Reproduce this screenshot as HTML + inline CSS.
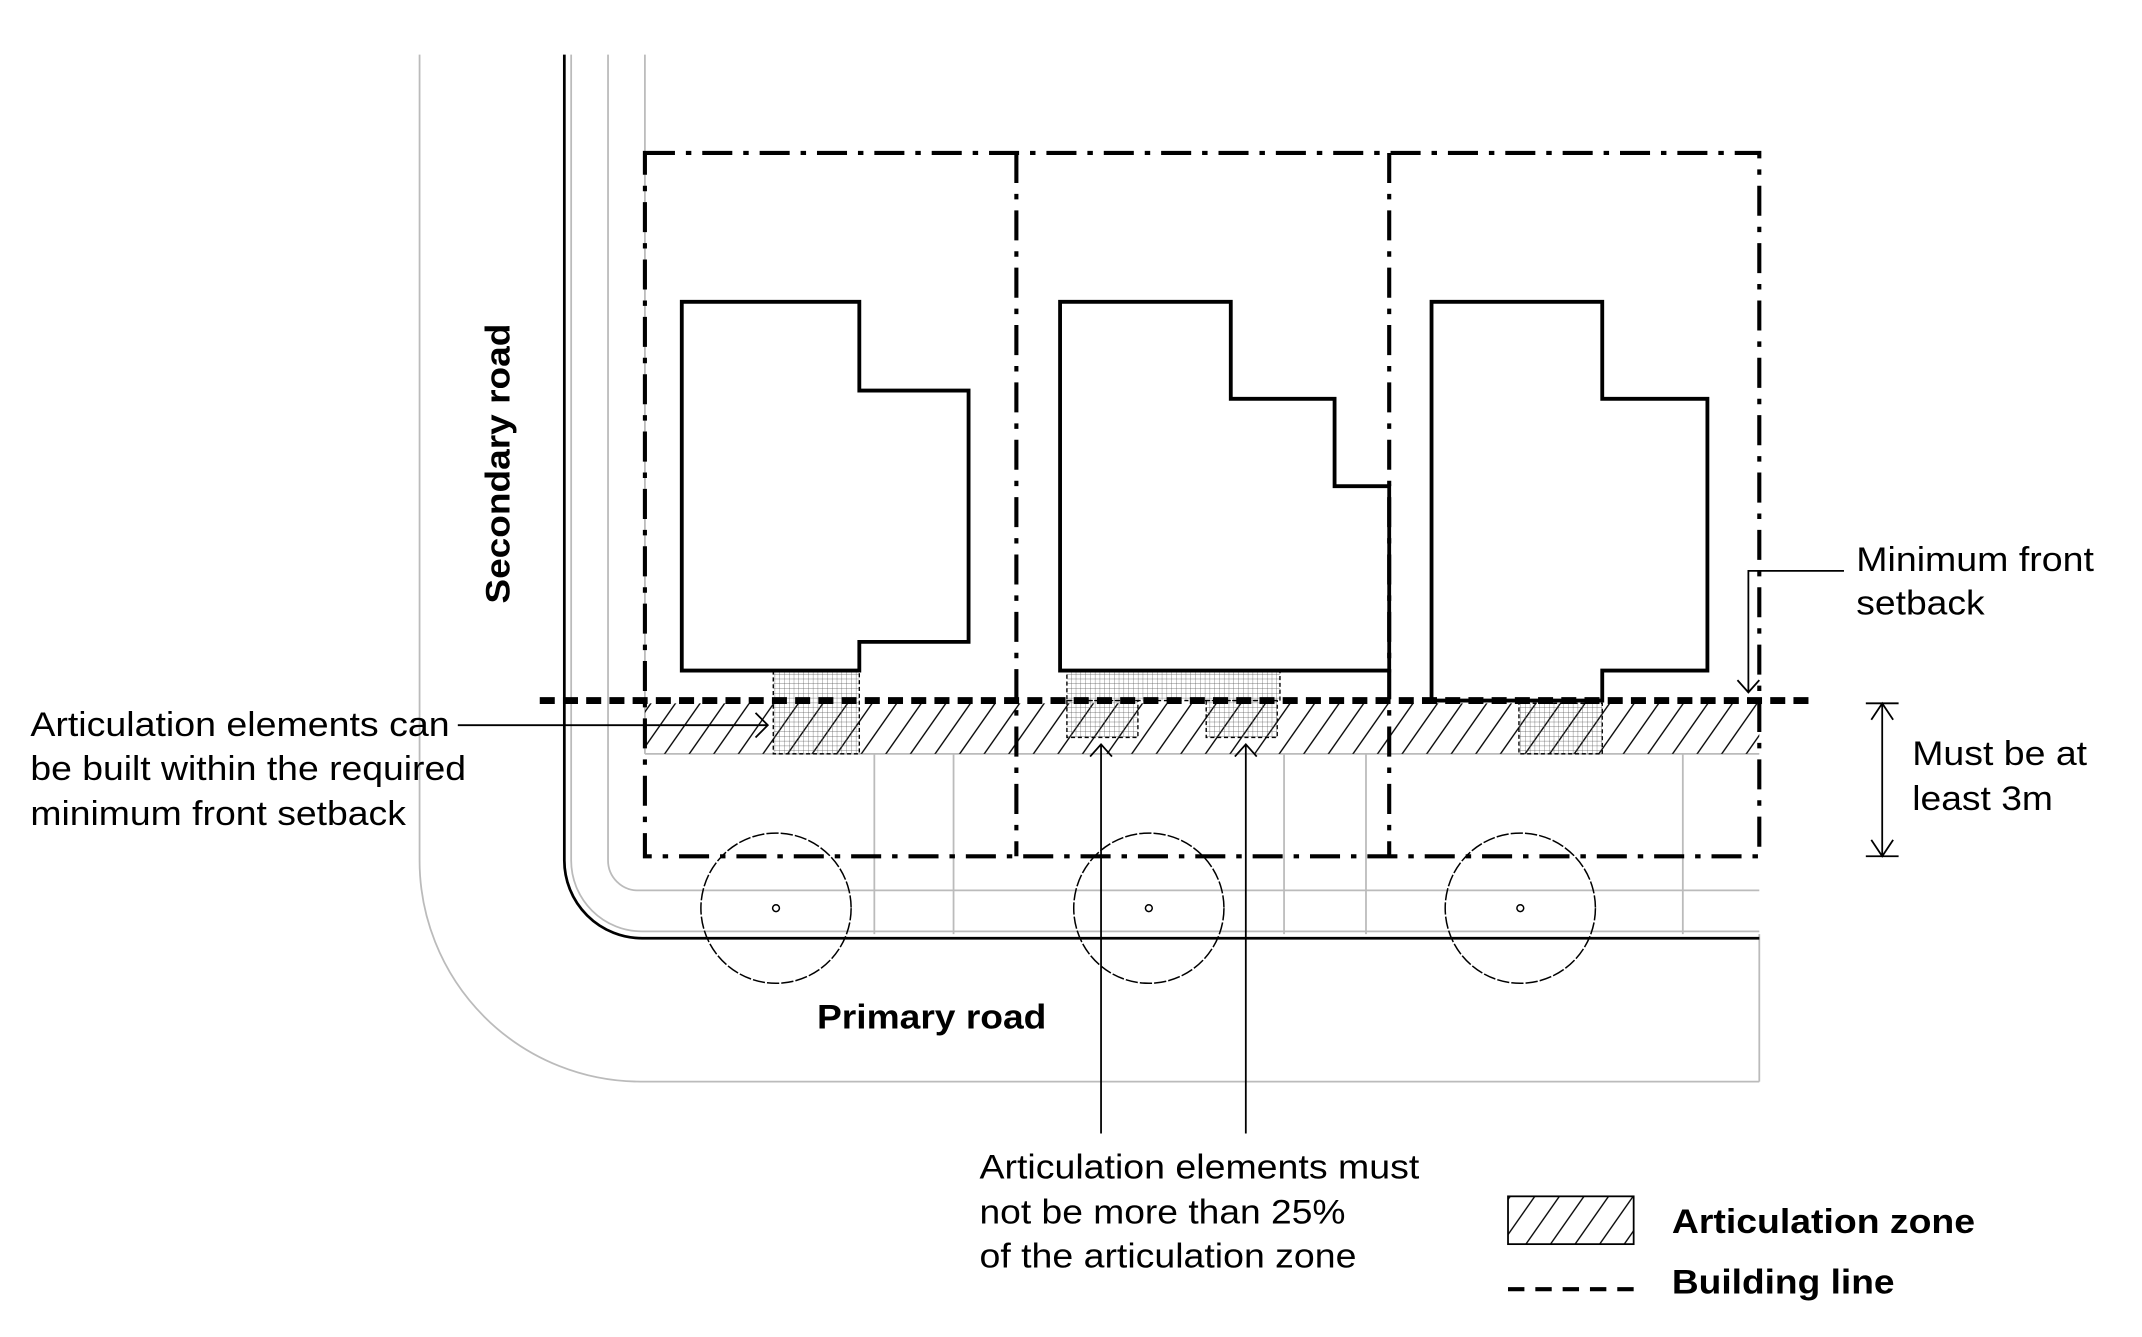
<!DOCTYPE html>
<html><head><meta charset="utf-8"><style>html,body{margin:0;padding:0;background:#fff}svg{display:block}text{font-family:"Liberation Sans",Arial,sans-serif;fill:#000}</style></head><body>
<svg width="2142" height="1337" viewBox="0 0 1568 979" xmlns="http://www.w3.org/2000/svg">
<defs>
<pattern id="h" patternUnits="userSpaceOnUse" width="18" height="40" patternTransform="skewX(-35)"><line x1="9" y1="0" x2="9" y2="40" stroke="#000" stroke-width="1.2"/></pattern>
<pattern id="x" patternUnits="userSpaceOnUse" width="3.5" height="3.5"><path d="M0 0H3.5M0 0V3.5" stroke="#555" stroke-width="0.5"/></pattern>
</defs>
<g fill="none" stroke="#bbb" stroke-width="1.3">
<path d="M307 40V630A162 162 0 0 0 469 792H1288"/>
<path d="M418 40V630A52 52 0 0 0 470 682H1288"/>
<path d="M445 40V630A22 22 0 0 0 467 652H1288"/>
<path d="M472 40V552"/>
<path d="M472 552H1288"/>
<path d="M640 552V684M698 552V684M940 552V684M1000 552V684M1232 552V684"/>
<path d="M1288 684V792"/>
</g>
<path d="M413 40V630A57 57 0 0 0 470 687H1288" fill="none" stroke="#000" stroke-width="2"/>
<rect x="472" y="515" width="816" height="37" fill="url(#h)"/>
<g fill="url(#x)" stroke="#000" stroke-width="1" stroke-dasharray="3,2">
<rect x="566" y="491" width="63" height="61"/>
<rect x="781" y="491" width="156" height="22"/>
<rect x="781" y="513" width="52" height="27"/>
<rect x="883" y="513" width="52" height="27"/>
<rect x="1112" y="515" width="61" height="37"/>
</g>
<g fill="none" stroke="#000" stroke-width="2.8">
<path d="M499 221H629V286H709V470H629V491H499Z"/>
<path d="M776 221H901V292H977V356H1017V491H776Z"/>
<path d="M1048 221H1173V292H1250V491H1173V513H1048Z"/>
</g>
<g fill="none" stroke="#000" stroke-width="3" stroke-dasharray="22,8,4,8">
<rect x="472" y="112" width="816" height="515"/>
<path d="M744 112V627M1017 112V627"/>
</g>
<path d="M395 513H1325" stroke="#000" stroke-width="5" stroke-dasharray="11,6"/>
<g fill="none" stroke="#000" stroke-width="1.1">
<circle cx="568" cy="665" r="55" stroke-dasharray="9,1.5"/><circle cx="841" cy="665" r="55" stroke-dasharray="9,1.5"/><circle cx="1113" cy="665" r="55" stroke-dasharray="9,1.5"/>
<circle cx="568" cy="665" r="2.5"/><circle cx="841" cy="665" r="2.5"/><circle cx="1113" cy="665" r="2.5"/>
</g>
<g fill="none" stroke="#000" stroke-width="1.3">
<path d="M335 531H562M553 522L562 531 553 540"/>
<path d="M806 830V545M798 554L806 545 814 554"/>
<path d="M912 830V545M904 554L912 545 920 554"/>
<path d="M1350 418H1280V507M1272 498L1280 507 1288 498"/>
<path d="M1378 515V627M1366 515H1390M1366 627H1390M1370 527L1378 515 1386 527M1370 615L1378 627 1386 615"/>
</g>
<rect x="1104" y="876" width="92" height="35" fill="url(#h)" stroke="#000" stroke-width="1.3"/>
<path d="M1104 944H1196" stroke="#000" stroke-width="3" stroke-dasharray="12,8"/>
<g font-size="25">
<text x="22" y="539" textLength="307" lengthAdjust="spacingAndGlyphs">Articulation elements can</text>
<text x="22" y="571" textLength="319" lengthAdjust="spacingAndGlyphs">be built within the required</text>
<text x="22" y="604" textLength="275" lengthAdjust="spacingAndGlyphs">minimum front setback</text>
<text x="1359" y="418" textLength="174" lengthAdjust="spacingAndGlyphs">Minimum front</text>
<text x="1359" y="450" textLength="94" lengthAdjust="spacingAndGlyphs">setback</text>
<text x="1400" y="560" textLength="128" lengthAdjust="spacingAndGlyphs">Must be at</text>
<text x="1400" y="593" textLength="103" lengthAdjust="spacingAndGlyphs">least 3m</text>
<text x="717" y="863" textLength="322" lengthAdjust="spacingAndGlyphs">Articulation elements must</text>
<text x="717" y="896" textLength="268" lengthAdjust="spacingAndGlyphs">not be more than 25%</text>
<text x="717" y="928" textLength="276" lengthAdjust="spacingAndGlyphs">of the articulation zone</text>
</g>
<g font-size="25" font-weight="bold">
<text x="598" y="753" textLength="168" lengthAdjust="spacingAndGlyphs">Primary road</text>
<text x="1224" y="903" textLength="222" lengthAdjust="spacingAndGlyphs">Articulation zone</text>
<text x="1224" y="947" textLength="163" lengthAdjust="spacingAndGlyphs">Building line</text>
<text transform="translate(373 442) rotate(-90)" textLength="205" lengthAdjust="spacingAndGlyphs">Secondary road</text>
</g>
</svg>
</body></html>
